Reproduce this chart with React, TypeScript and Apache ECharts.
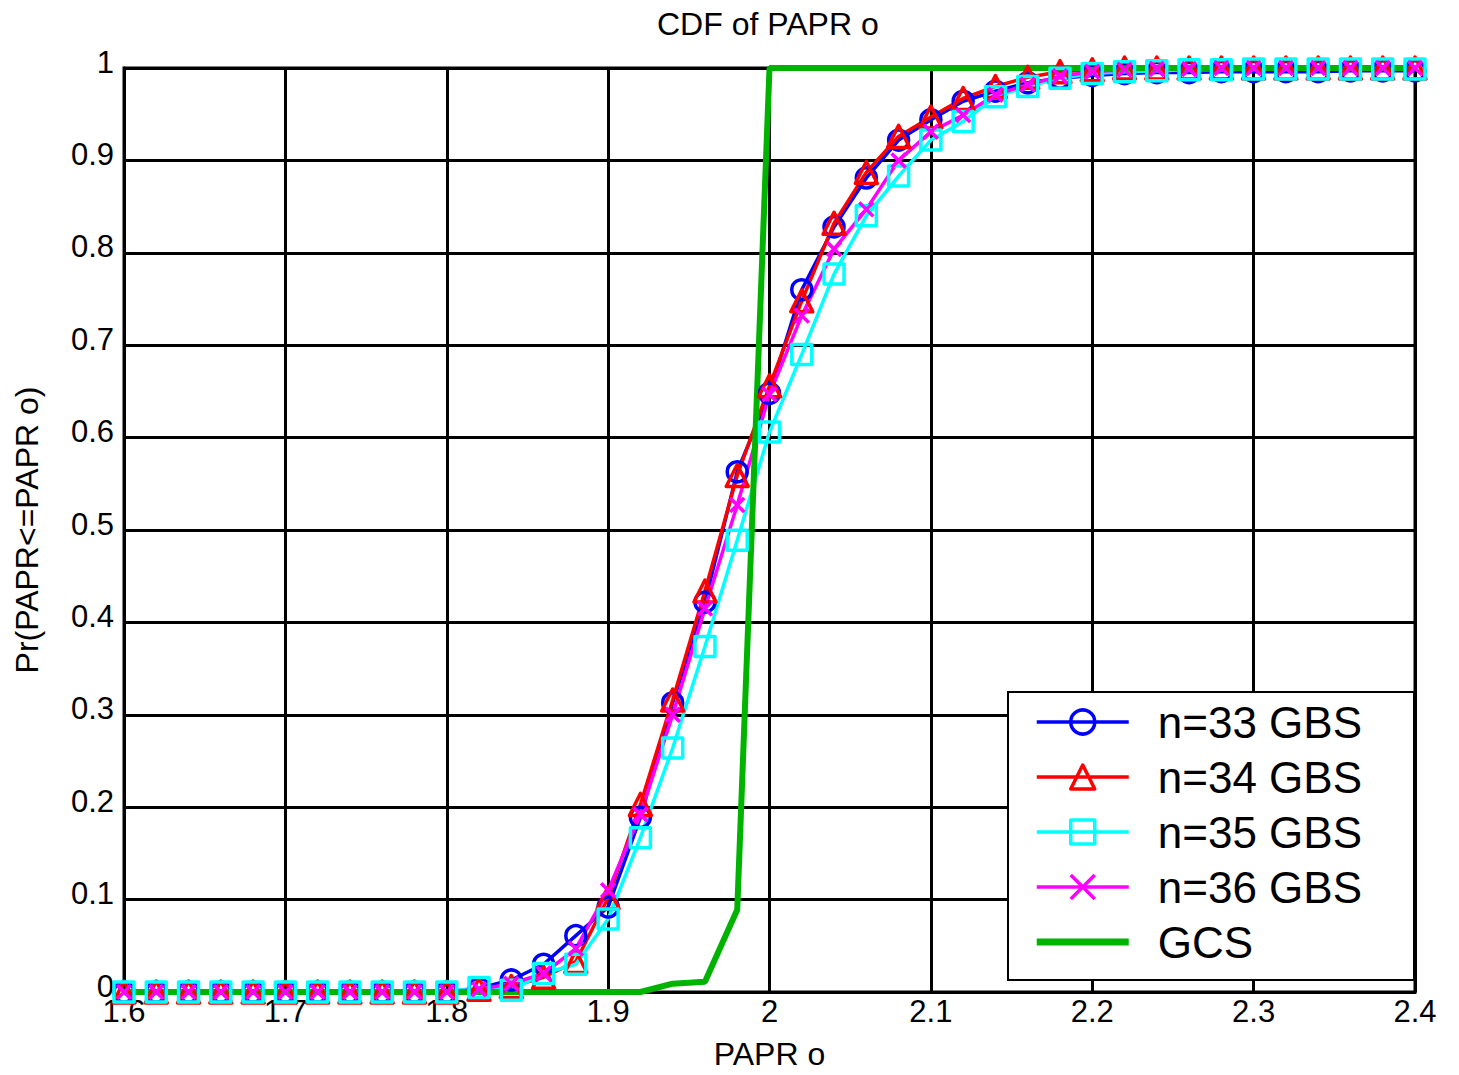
import React, { useEffect, useRef } from 'react';
import * as echarts from 'echarts';

const FONT = '"Liberation Sans", Arial, Helvetica, sans-serif';

// PAPR o sample points
const xValues = [
  1.60, 1.62, 1.64, 1.66, 1.68, 1.70, 1.72, 1.74, 1.76, 1.78, 1.80,
  1.82, 1.84, 1.86, 1.88, 1.90, 1.92, 1.94, 1.96, 1.98, 2.00,
  2.02, 2.04, 2.06, 2.08, 2.10, 2.12, 2.14, 2.16, 2.18, 2.20,
  2.22, 2.24, 2.26, 2.28, 2.30, 2.32, 2.34, 2.36, 2.38, 2.40,
];

const n33 = [
  0, 0, 0, 0, 0, 0, 0, 0, 0, 0, 0,
  0.004, 0.013, 0.03, 0.061, 0.092, 0.189, 0.313, 0.422, 0.563, 0.648,
  0.76, 0.828, 0.881, 0.922, 0.944, 0.964, 0.975, 0.984, 0.989, 0.992,
  0.994, 0.995, 0.995, 0.996, 0.996, 0.996, 0.996, 0.997, 0.997, 0.997,
];

const n34 = [
  0, 0, 0, 0, 0, 0, 0, 0, 0, 0, 0,
  0.003, 0.006, 0.016, 0.033, 0.102, 0.203, 0.316, 0.434, 0.559, 0.656,
  0.748, 0.832, 0.887, 0.926, 0.947, 0.967, 0.98, 0.99, 0.996, 0.998,
  1, 1, 1, 1, 1, 1, 1, 1, 1, 1,
];

const n35 = [
  0, 0, 0, 0, 0, 0, 0, 0, 0, 0, 0,
  0.005, 0.002, 0.02, 0.03, 0.079, 0.167, 0.264, 0.374, 0.489, 0.606,
  0.69, 0.777, 0.84, 0.883, 0.922, 0.942, 0.969, 0.98, 0.989, 0.994,
  0.996, 0.997, 0.998, 0.998, 0.999, 0.999, 0.999, 0.999, 0.999, 0.999,
];

const n36 = [
  0, 0, 0, 0, 0, 0, 0, 0, 0, 0, 0,
  0.003, 0.009, 0.02, 0.047, 0.11, 0.192, 0.3, 0.415, 0.527, 0.647,
  0.732, 0.804, 0.847, 0.9, 0.931, 0.949, 0.971, 0.982, 0.991, 0.996,
  0.998, 0.999, 0.999, 1, 1, 1, 1, 1, 1, 1,
];

const gcs = [
  0, 0, 0, 0, 0, 0, 0, 0, 0, 0, 0,
  0, 0, 0, 0, 0, 0, 0.009, 0.011, 0.089, 1,
  1, 1, 1, 1, 1, 1, 1, 1, 1, 1,
  1, 1, 1, 1, 1, 1, 1, 1, 1, 1,
];

const seriesNames = ['n=33 GBS', 'n=34 GBS', 'n=35 GBS', 'n=36 GBS', 'GCS'];
const seriesColors = ['#0000ff', '#ff0000', '#00ffff', '#ff00ff', '#00b300'];

const fmt = (v: number) => String(Math.round(v * 10) / 10);

function markerSeries(name: string, values: number[], color: string, symbol: string, size: number) {
  return {
    name,
    type: 'line',
    data: xValues.map((x, i) => [x, values[i]]),
    symbol,
    symbolSize: size,
    showAllSymbol: true,
    clip: false,
    lineStyle: { color, width: 3.5 },
    itemStyle: { color: 'rgba(0,0,0,0)', borderColor: color, borderWidth: 3.5, borderJoin: 'round' },
    emphasis: { disabled: true },
  };
}

export default function App() {
  const ref = useRef<HTMLDivElement>(null);
  useEffect(() => {
    if (!ref.current) return;
    const chart = echarts.init(ref.current, undefined, { renderer: 'svg' });
    const option: any = {
      animation: false,
      backgroundColor: '#fff',
      title: {
        text: 'CDF of PAPR o',
        left: 652,
        top: 3,
        textStyle: { fontSize: 32, fontWeight: 'normal', fontFamily: FONT, color: '#000' },
      },
      grid: {
        left: 124, right: 44, top: 68, bottom: 80,
        show: true, borderColor: '#000', borderWidth: 3, backgroundColor: '#fff',
      },
      xAxis: {
        type: 'value', min: 1.6, max: 2.4, interval: 0.1,
        name: 'PAPR o', nameLocation: 'middle', nameGap: 46,
        nameTextStyle: { fontSize: 32, fontFamily: FONT, color: '#000' },
        axisLine: { show: true, lineStyle: { color: '#000', width: 3 } },
        axisTick: { show: false },
        axisLabel: { fontSize: 31, fontFamily: FONT, color: '#000', margin: 4, formatter: fmt },
        splitLine: { show: true, lineStyle: { color: '#000', width: 3 } },
      },
      yAxis: {
        type: 'value', min: 0, max: 1, interval: 0.1,
        name: 'Pr(PAPR<=PAPR o)', nameLocation: 'middle', nameGap: 81, nameRotate: 90,
        nameTextStyle: { fontSize: 32, fontFamily: FONT, color: '#000' },
        axisLine: { show: true, lineStyle: { color: '#000', width: 3 } },
        axisTick: { show: false },
        axisLabel: {
          fontSize: 31, fontFamily: FONT, color: '#000', margin: 10,
          formatter: (v: number) => '{t|' + fmt(v) + '}',
          rich: { t: { fontSize: 31, fontFamily: FONT, color: '#000', padding: [0, 0, 12, 0] } },
        },
        splitLine: { show: true, lineStyle: { color: '#000', width: 3 } },
      },
      legend: {
        orient: 'vertical',
        right: 45,
        bottom: 95,
        data: [
          seriesNames[0], seriesNames[1], seriesNames[2], seriesNames[3],
          { name: seriesNames[4], icon: 'path://M0,0 L92,0 L92,7 L0,7 Z', itemStyle: { borderWidth: 0 } },
        ],
        itemWidth: 92,
        itemHeight: 30,
        itemGap: 11,
        padding: [8, 52, 16, 27],
        backgroundColor: '#fff',
        borderColor: '#000',
        borderWidth: 2,
        selectedMode: false,
        textStyle: { fontSize: 44, fontFamily: FONT, color: '#000', padding: [0, 0, 0, 24] },
        lineStyle: { width: 3.5 },
        itemStyle: { borderWidth: 3.5 },
      },
      series: [
        markerSeries(seriesNames[0], n33, seriesColors[0], 'circle', 20),
        markerSeries(seriesNames[1], n34, seriesColors[1], 'triangle', 22),
        markerSeries(seriesNames[2], n35, seriesColors[2], 'rect', 20),
        markerSeries(seriesNames[3], n36, seriesColors[3], 'path://M0,0 L10,10 M10,0 L0,10', 14),
        {
          name: seriesNames[4],
          type: 'line',
          data: xValues.map((x, i) => [x, gcs[i]]),
          symbol: 'none',
          clip: false,
          lineStyle: { color: seriesColors[4], width: 6 },
          itemStyle: { color: seriesColors[4], borderColor: seriesColors[4] },
          emphasis: { disabled: true },
        },
      ],
    };
    chart.setOption(option);
    return () => chart.dispose();
  }, []);
  return (
    <div
      ref={ref}
      style={{ position: 'absolute', left: 0, top: 0, width: 1459, height: 1075 }}
    />
  );
}
